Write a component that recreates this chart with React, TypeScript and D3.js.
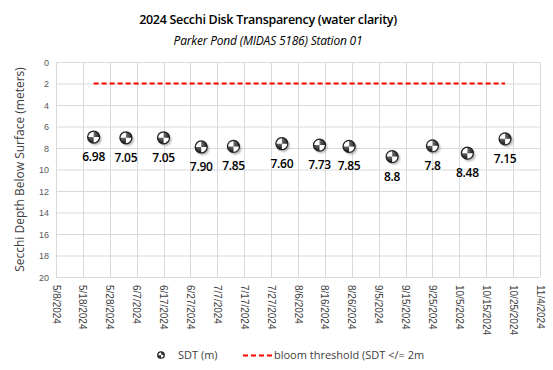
import { useEffect, useRef } from "react"
import * as d3 from "d3"

const sampleDates = [
  "2024-05-22", "2024-06-03", "2024-06-17", "2024-07-01", "2024-07-13", "2024-07-31",
  "2024-08-14", "2024-08-25", "2024-09-10", "2024-09-25", "2024-10-08", "2024-10-22",
]
const sdtValues = [6.98, 7.05, 7.05, 7.9, 7.85, 7.6, 7.73, 7.85, 8.8, 7.8, 8.48, 7.15]
const sdtLabels = ["6.98", "7.05", "7.05", "7.90", "7.85", "7.60", "7.73", "7.85", "8.8", "7.8", "8.48", "7.15"]
const bloomThreshold = 2
const yTicks = [0, 2, 4, 6, 8, 10, 12, 14, 16, 18, 20]

const W = 553
const H = 370
const margin = { top: 62, right: 13, bottom: 93, left: 56 }

const parse = d3.timeParse("%Y-%m-%d")

export default function App() {
  const ref = useRef<SVGSVGElement>(null)

  useEffect(() => {
    const svg = d3.select(ref.current)
    svg.selectAll("*").remove()

    const x = d3.scaleTime()
      .domain([parse("2024-05-08")!, parse("2024-11-04")!])
      .range([margin.left, W - margin.right])
    const y = d3.scaleLinear()
      .domain([0, 20])
      .range([margin.top, H - margin.bottom])

    const xTicks = d3.range(0, 19).map(i => d3.timeDay.offset(parse("2024-05-08")!, i * 10))

    const defs = svg.append("defs")
    const shadow = defs.append("filter").attr("id", "blur").attr("x", "-50%").attr("y", "-50%")
      .attr("width", "200%").attr("height", "200%")
    shadow.append("feGaussianBlur").attr("stdDeviation", 1.2)

    const grad = defs.append("radialGradient").attr("id", "shine")
      .attr("cx", "35%").attr("cy", "30%").attr("r", "70%")
    grad.append("stop").attr("offset", "0%").attr("stop-color", "#fff").attr("stop-opacity", 0.55)
    grad.append("stop").attr("offset", "100%").attr("stop-color", "#fff").attr("stop-opacity", 0)

    // Title
    svg.append("text")
      .attr("x", 268).attr("y", 24)
      .attr("text-anchor", "middle")
      .style("font-family", "Open Sans, sans-serif")
      .style("font-size", "12.5px").style("font-weight", 600)
      .style("letter-spacing", "-0.3px")
      .text("2024 Secchi Disk Transparency (water clarity)")
    svg.append("text")
      .attr("x", 268).attr("y", 45)
      .attr("text-anchor", "middle")
      .style("font-family", "Open Sans, sans-serif")
      .style("font-size", "12px").style("font-style", "italic")
      .style("letter-spacing", "-0.2px")
      .text("Parker Pond (MIDAS 5186) Station 01")

    const g = svg.append("g")

    // Gridlines
    g.selectAll(".hg").data(yTicks).join("line")
      .attr("x1", margin.left).attr("x2", W - margin.right)
      .attr("y1", d => y(d) + 0.5).attr("y2", d => y(d) + 0.5)
      .attr("stroke", "#d9d9d9")
    g.selectAll(".vg").data(xTicks).join("line")
      .attr("x1", d => Math.round(x(d)) + 0.5).attr("x2", d => Math.round(x(d)) + 0.5)
      .attr("y1", margin.top).attr("y2", H - margin.bottom)
      .attr("stroke", "#d9d9d9")

    // Y tick labels
    g.selectAll(".yl").data(yTicks).join("text")
      .attr("x", margin.left - 7).attr("y", d => y(d) + 3.5)
      .attr("text-anchor", "end")
      .style("font-family", "Liberation Sans, Arial, sans-serif")
      .style("font-size", "9px").attr("fill", "#595959")
      .text(d => d)

    // X tick labels
    const fmt = d3.timeFormat("%-m/%-d/%Y")
    g.selectAll(".xl").data(xTicks).join("text")
      .attr("transform", d => `translate(${x(d) - 3.5},${H - margin.bottom + 8}) rotate(90)`)
      .attr("text-anchor", "start")
      .style("font-family", "Liberation Sans, Arial, sans-serif")
      .style("font-size", "10px").attr("fill", "#404040")
      .text(d => fmt(d))

    // Y axis title
    svg.append("text")
      .attr("transform", `translate(24,${(margin.top + H - margin.bottom) / 2}) rotate(-90)`)
      .attr("text-anchor", "middle")
      .style("font-family", "Open Sans, sans-serif")
      .style("font-size", "12px").attr("fill", "#404040")
      .text("Secchi Depth Below Surface (meters)")

    // Bloom threshold line
    const dates = sampleDates.map(d => parse(d)!)
    g.append("line")
      .attr("x1", x(dates[0])).attr("x2", x(dates[dates.length - 1]))
      .attr("y1", y(bloomThreshold)).attr("y2", y(bloomThreshold))
      .attr("stroke", "#ff0000").attr("stroke-width", 2)
      .attr("stroke-dasharray", "5,3")

    // Secchi disk marker
    const disk = (sel: d3.Selection<SVGGElement, unknown, null, undefined>, r: number, withShadow: boolean) => {
      if (withShadow) {
        sel.append("circle").attr("cx", 1.8).attr("cy", 2).attr("r", r)
          .attr("fill", "#777").attr("opacity", 0.6).attr("filter", "url(#blur)")
      }
      sel.append("circle").attr("r", r).attr("fill", "#fff")
      const arc = d3.arc<any>().innerRadius(0).outerRadius(r)
      sel.append("path").attr("d", arc({ startAngle: 0, endAngle: Math.PI / 2 }) as string).attr("fill", "#111")
      sel.append("path").attr("d", arc({ startAngle: Math.PI, endAngle: Math.PI * 1.5 }) as string).attr("fill", "#111")
      sel.append("circle").attr("r", r).attr("fill", "url(#shine)")
      sel.append("circle").attr("r", r).attr("fill", "none").attr("stroke", "#222").attr("stroke-width", 1.3)
    }

    dates.forEach((d, i) => {
      const mg = g.append("g").attr("transform", `translate(${x(d)},${y(sdtValues[i])})`)
      disk(mg as any, 6, true)
      g.append("text")
        .attr("x", x(d)).attr("y", y(sdtValues[i]) + 24)
        .attr("text-anchor", "middle")
        .style("font-family", "Open Sans, sans-serif")
        .style("font-size", "12px").style("font-weight", 600)
        .style("letter-spacing", "-0.3px")
        .text(sdtLabels[i])
    })

    // Legend
    const lg = svg.append("g").attr("transform", `translate(161,355)`)
    disk(lg as any, 3.2, false)
    svg.append("text").attr("x", 178).attr("y", 359)
      .style("font-family", "Open Sans, sans-serif").style("font-size", "11px")
      .attr("fill", "#404040")
      .text("SDT (m)")
    svg.append("line").attr("x1", 243).attr("x2", 273).attr("y1", 355.5).attr("y2", 355.5)
      .attr("stroke", "#ff0000").attr("stroke-width", 2).attr("stroke-dasharray", "5,3")
    svg.append("text").attr("x", 274).attr("y", 359)
      .style("font-family", "Open Sans, sans-serif").style("font-size", "11px")
      .attr("fill", "#404040")
      .text("bloom threshold (SDT </= 2m")
  }, [])

  return (
    <svg ref={ref} width={W} height={H} style={{ display: "block", position: "absolute", left: 0, top: 0, background: "#fff" }} />
  )
}
